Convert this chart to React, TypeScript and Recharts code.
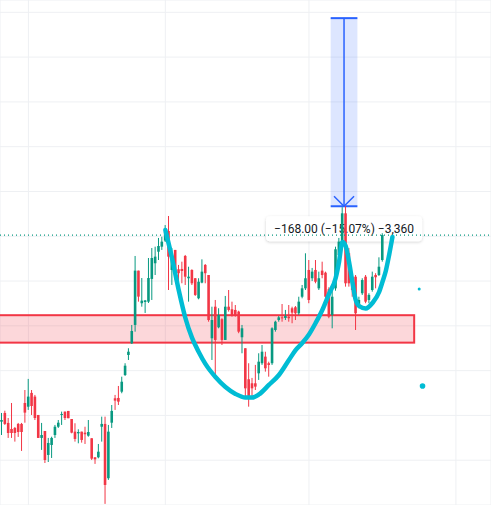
import {
  ComposedChart,
  Bar,
  Line,
  XAxis,
  YAxis,
  CartesianGrid,
  ReferenceLine,
  ReferenceArea,
} from 'recharts';

// OHLC per bar (oldest first)
const opens = [
  754.4, 762.2, 753.3, 747.9, 748.8, 752.4, 752.4, 771.1, 767.8, 780.1,
  776.8, 760.4, 739.9, 746.1, 724.7, 733.6, 742.5, 749.9, 760.4, 763.4,
  764, 756.8, 745.5, 744, 745.5, 744.6, 741.9, 739.6, 722.6, 722.6,
  749.9, 752.4, 703.9, 753.5, 775.3, 775.6, 781.2, 796.1, 814, 824.4,
  840.8, 889.3, 860.2, 861.3, 861.6, 881.9, 895.9, 906.2, 910.7, 916.1,
  924.7, 889.9, 907.8, 890.5, 890.8, 902.4, 882.5, 889.9, 882.5, 864.6,
  878.6, 894.4, 885.4, 828.9, 857.1, 838.7, 845.9, 827.4, 857.1, 854.8,
  854.2, 852.7, 829.8, 820, 792.3, 788.7, 788.7, 797.6, 806.6, 812.5,
  806.6, 806.6, 836.3, 845.2, 847.6, 847, 848.2, 855.7, 856.6, 851.2,
  866, 873.5, 889.9, 882.5, 889.9, 873.5, 889.3, 887.5, 872.7, 849.7,
  873.5, 903.3, 914.9, 940.5, 904.8, 883.9, 883.9, 857.1, 869.1, 883.9,
  863.1, 872, 885.4, 885.4, 898.8,
];
const highs = [
  762.2, 764.2, 757.7, 771.1, 749.7, 753.3, 753.3, 782.7, 792.6, 782.7,
  778.3, 760.4, 753.3, 746.1, 739.9, 741, 751.5, 755.9, 763.4, 763.4,
  764, 756.8, 753, 747.6, 745.5, 749.9, 755.9, 739.6, 722.6, 734.5,
  758.9, 758.9, 751.5, 769.3, 778.3, 786.3, 794.6, 806.6, 820, 840.8,
  902.4, 889.3, 882.7, 863.1, 900.6, 909.5, 910.7, 918.5, 919.6, 930,
  938.1, 909.5, 907.8, 894.4, 897.3, 903.3, 892.8, 890.5, 882.7, 882.5,
  899.4, 895.2, 885.4, 857.1, 863.1, 855.7, 846.8, 866.7, 872, 861.6,
  858.6, 853.5, 840.8, 820, 806.6, 793.5, 805.1, 815.5, 822.9, 816.9,
  808, 838.7, 844.6, 848.8, 859.5, 854.2, 858.6, 857.1, 857.7, 866,
  876.5, 904.8, 898.8, 891.7, 898.8, 888.4, 897.3, 888.4, 874.4, 872,
  910.7, 918.5, 946, 946.8, 909.5, 885.4, 885.4, 866, 882.5, 885.4,
  869.1, 888.4, 887, 901.2, 922.7,
];
const lows = [
  742.5, 751.5, 739.9, 739.9, 736.6, 740.8, 728.3, 753.5, 764.9, 760.4,
  755.9, 739.9, 729.2, 717.5, 718.4, 722, 739.9, 748.8, 751.5, 755.9,
  757.5, 744, 736.6, 735.1, 735.7, 734.5, 741, 720.2, 716.7, 721.7,
  736.6, 681, 702.4, 748.8, 764.9, 769.3, 779.8, 795.2, 809.5, 823.8,
  834.8, 861.6, 857.1, 851.5, 860.4, 863.1, 885.4, 898.8, 907.8, 914.9,
  872, 876.5, 880.9, 879.4, 878, 876.5, 861.6, 876.5, 866.7, 863.7,
  878, 878, 843.7, 809.5, 794.6, 837.8, 822.9, 827.4, 852.7, 848.2,
  848.2, 833.4, 815.5, 776.8, 767.8, 775.6, 782.7, 791.7, 805.1, 799.1,
  794.6, 805.1, 834.8, 843.7, 843.7, 845.2, 843.7, 842.3, 845.2, 849.7,
  864.6, 872, 860.2, 880, 878, 872, 882.5, 863.1, 846.8, 837.8,
  871.4, 900.6, 912.2, 875, 875, 866, 836.3, 855.7, 867.6, 860.2,
  860.2, 870.5, 873.5, 884.5, 897.3,
];
const closes = [
  755.9, 752.4, 744.3, 744.3, 744.3, 745.2, 745.2, 762.5, 776.8, 768.4,
  757.7, 739.9, 742.5, 720.2, 735.4, 739.9, 749.9, 753.5, 761.3, 757.7,
  757.5, 744.6, 739, 745.2, 738.1, 743.2, 745.2, 721.4, 720.8, 727.6,
  752.4, 697.9, 745.5, 764, 773.2, 772.3, 790.1, 804.4, 816.9, 835.4,
  889.3, 866.1, 862.5, 862.7, 882.7, 900.6, 901.8, 911.3, 915.2, 923.8,
  901.8, 903.3, 888.4, 887, 889, 883.9, 883.9, 878, 867.6, 879.4,
  888.4, 887, 845.2, 845.2, 827.4, 849.7, 827.4, 857.1, 854.2, 849.7,
  849.7, 834.8, 837.8, 784.2, 776.8, 784.2, 785.7, 808, 816.9, 802.1,
  805.1, 837.8, 843.7, 847.6, 846.8, 848.8, 846.8, 851.8, 851.2, 861.6,
  873.5, 882.5, 863.1, 888.4, 879.4, 882.5, 885.4, 866, 848.2, 866,
  908.4, 915.2, 940.5, 878, 878, 872, 851.2, 863.1, 880.9, 861.6,
  867.6, 883.9, 883.4, 892.8, 921.1,
];

// hand-drawn cup & handle brush: [bar index, price]
const cupCurve: [number, number][] = [
  [49, 925.6], [51, 900.6], [53, 872], [55, 847], [57, 829.2], [59, 816.7],
  [61, 806], [64, 794.3], [67, 785.4], [70, 779.2], [73, 776], [75, 776],
  [77, 778.7], [80, 787.2], [83, 796.1], [86, 809.5], [88, 818.4], [90, 824.7],
  [92, 832.3], [94, 842.6], [96, 854.2], [98, 868.5], [100, 882.7], [101, 897],
  [102, 914.9], [103, 911.3], [104, 897], [105, 879.2], [106, 863.1],
  [107, 857.7], [109, 855.5], [111, 860.4], [113, 870.2], [114, 879.2],
  [115, 889], [116, 903.3], [117, 919.4],
];
const markerDots: [number, number][] = [[125, 872.9], [126, 786.3]];

const slotCount = 147;
const periodStarts = [8, 49, 92, 136];
const priceGrid = [720, 760, 800, 840, 880, 920, 960, 1000, 1040, 1080, 1120];
const lastClose = 921.1;
const zoneBounds = [825, 849.5];
const zoneBars = [0, 123];
const measureBounds = [946.8, 1114.8];
const measureBars = [99, 106];
const measureText = '\u2212168.00 (\u221215.07%) \u22123,360';

const UP = '#089981';
const DOWN = '#f23645';
const BLUE = '#2962ff';
const CYAN = '#00bcd4';

interface Row {
  idx: number;
  o?: number;
  h?: number;
  l?: number;
  c?: number;
  range?: [number, number];
  cup?: number;
  dotA?: number;
  dotB?: number;
}

const rows: Row[] = Array.from({ length: slotCount }, (_, i) => {
  const row: Row = { idx: i };
  if (i < opens.length) {
    row.o = opens[i];
    row.h = highs[i];
    row.l = lows[i];
    row.c = closes[i];
    row.range = [lows[i], highs[i]];
  }
  return row;
});
cupCurve.forEach(([i, p]) => {
  rows[i].cup = p;
});
rows[markerDots[0][0]].dotA = markerDots[0][1];
rows[markerDots[1][0]].dotB = markerDots[1][1];

const Candle = (props: any) => {
  const { x, y, width, height, payload } = props;
  if (payload == null || payload.o == null || !height) return null;
  const { o, h, l, c } = payload;
  const color = c >= o ? UP : DOWN;
  const k = height / (h - l);
  const cx = x + width / 2;
  const top = y + (h - Math.max(o, c)) * k;
  const bodyH = Math.max(1, Math.abs(o - c) * k);
  return (
    <g>
      <line x1={cx} x2={cx} y1={y} y2={y + height} stroke={color} strokeWidth={1} />
      <rect x={cx - 1.3} y={top} width={2.6} height={bodyH} fill={color} />
    </g>
  );
};

const ZoneShape = (props: any) => {
  const { x, y, width, height } = props;
  return (
    <rect
      x={x - 4}
      y={y}
      width={width + 4}
      height={height}
      fill="rgba(242,54,69,0.2)"
      stroke={DOWN}
      strokeWidth={2}
    />
  );
};

const MeasureShape = (props: any) => {
  const { x, y, width, height } = props;
  const cx = x + width / 2;
  const bottom = y + height;
  return (
    <g>
      <defs>
        <filter id="lblShadow" x="-10%" y="-40%" width="120%" height="180%">
          <feDropShadow dx="0" dy="1" stdDeviation="1.5" floodColor="#000" floodOpacity="0.18" />
        </filter>
      </defs>
      <rect x={x} y={y} width={width} height={height} fill="rgba(41,98,255,0.16)" />
      <line x1={cx} x2={cx} y1={y} y2={bottom} stroke={BLUE} strokeWidth={1.5} />
      <line x1={x} x2={x + width} y1={y} y2={y} stroke={BLUE} strokeWidth={2} />
      <line x1={x} x2={x + width} y1={bottom} y2={bottom} stroke={BLUE} strokeWidth={2} />
      <polyline
        points={`${cx - 10},${bottom - 10} ${cx},${bottom} ${cx + 10},${bottom - 10}`}
        fill="none"
        stroke={BLUE}
        strokeWidth={1.5}
      />
      <rect
        x={cx - 78}
        y={bottom + 10}
        width={156}
        height={25}
        rx={4}
        fill="#fff"
        filter="url(#lblShadow)"
      />
      <text
        x={cx}
        y={bottom + 27}
        textAnchor="middle"
        fontFamily="Roboto, sans-serif"
        fontSize={12}
        fill="#131722"
      >
        {measureText}
      </text>
    </g>
  );
};

export default function App() {
  return (
    <div style={{ position: 'absolute', left: 0, top: 0, width: 491, height: 505, background: '#fff' }}>
      <ComposedChart
        width={491}
        height={505}
        data={rows}
        margin={{ top: 0, right: 0, bottom: 0, left: 0 }}
        barCategoryGap={0}
      >
        <CartesianGrid stroke="#eef0f3" strokeWidth={1} />
        <XAxis dataKey="idx" type="category" hide ticks={periodStarts} interval={0} />
        <YAxis type="number" hide domain={[680, 1131]} ticks={priceGrid} allowDataOverflow />
        <ReferenceLine y={lastClose} stroke={UP} strokeDasharray="1 3" strokeWidth={1.2} />
        <ReferenceArea
          x1={zoneBars[0]}
          x2={zoneBars[1]}
          y1={zoneBounds[0]}
          y2={zoneBounds[1]}
          shape={ZoneShape}
        />
        <ReferenceArea
          x1={measureBars[0]}
          x2={measureBars[1]}
          y1={measureBounds[0]}
          y2={measureBounds[1]}
          shape={MeasureShape}
        />
        <Bar dataKey="range" shape={<Candle />} isAnimationActive={false} />
        <Line
          dataKey="cup"
          type="monotone"
          stroke={CYAN}
          strokeWidth={4.5}
          strokeLinecap="round"
          dot={false}
          activeDot={false}
          connectNulls
          isAnimationActive={false}
        />
        <Line
          dataKey="dotA"
          stroke="none"
          dot={{ r: 1.5, fill: CYAN, stroke: 'none' }}
          activeDot={false}
          isAnimationActive={false}
        />
        <Line
          dataKey="dotB"
          stroke="none"
          dot={{ r: 2.8, fill: CYAN, stroke: 'none' }}
          activeDot={false}
          isAnimationActive={false}
        />
      </ComposedChart>
    </div>
  );
}
